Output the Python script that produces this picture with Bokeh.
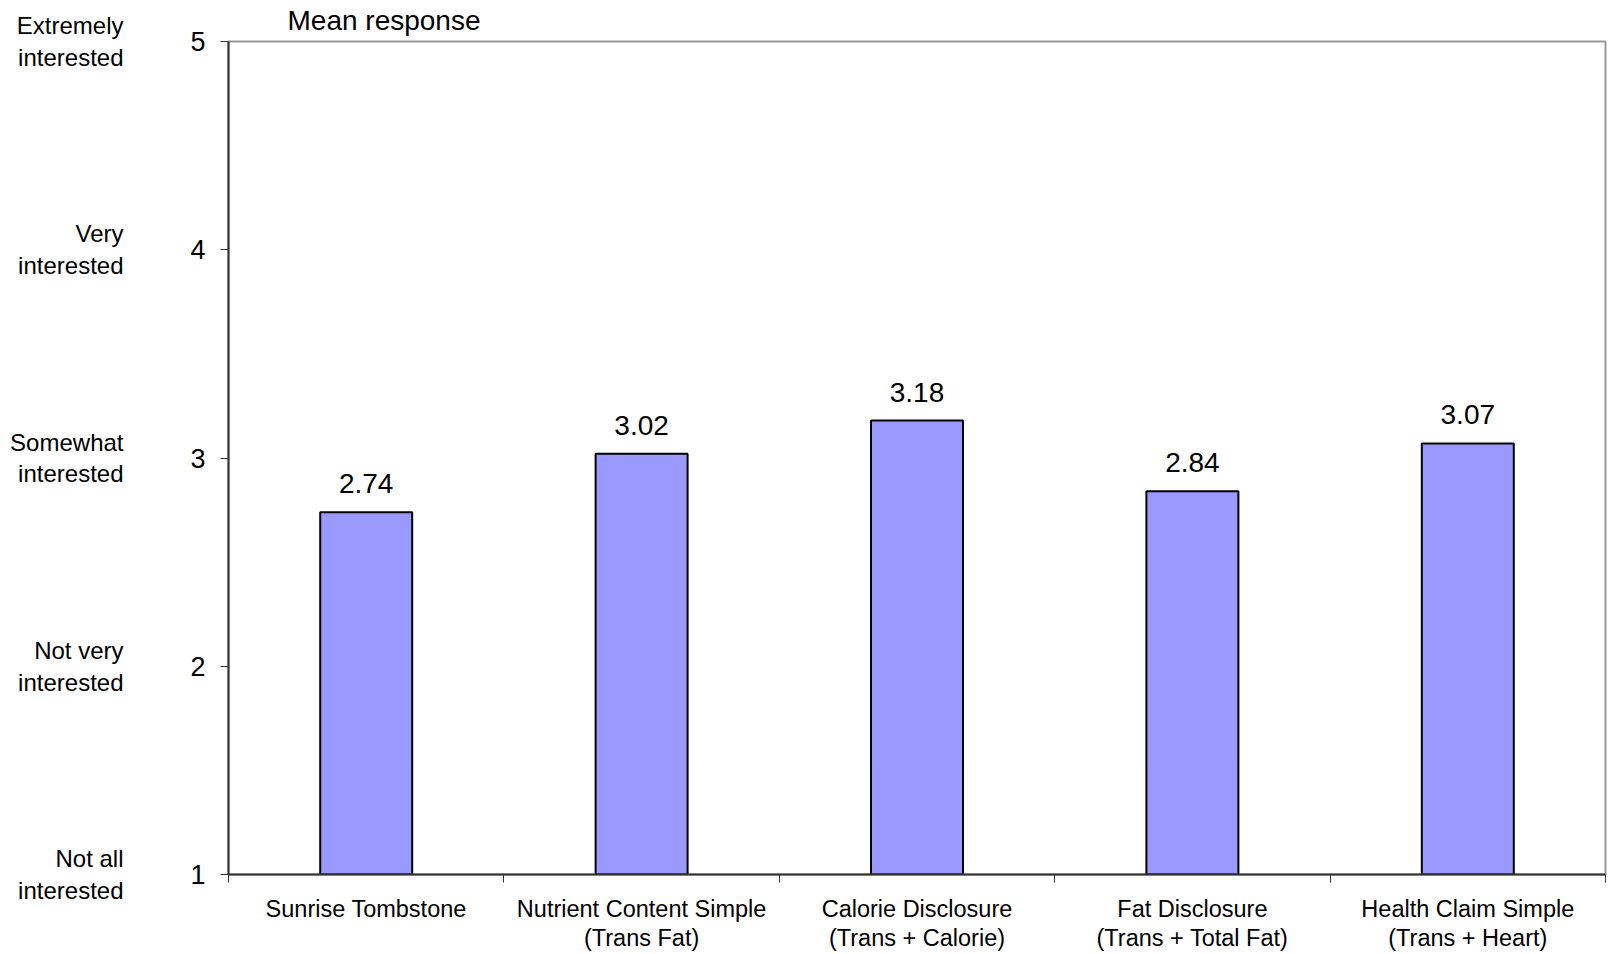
from bokeh.plotting import figure
from bokeh.models import ColumnDataSource, LinearAxis, FixedTicker, Range1d, LabelSet
from bokeh.core.properties import value
from bokeh.embed import file_html
from bokeh.resources import INLINE

categories = [
    "Sunrise Tombstone",
    "Nutrient Content Simple\n(Trans Fat)",
    "Calorie Disclosure\n(Trans + Calorie)",
    "Fat Disclosure\n(Trans + Total Fat)",
    "Health Claim Simple\n(Trans + Heart)",
]
values = [2.74, 3.02, 3.18, 2.84, 3.07]
scale_ticks = [1, 2, 3, 4, 5]
scale_labels = [
    "Not all\ninterested",
    "Not very\ninterested",
    "Somewhat\ninterested",
    "Very\ninterested",
    "Extremely\ninterested",
]
title_text = "Mean response"

FONT = "Liberation Sans"
xs = list(range(len(categories)))
src = ColumnDataSource(dict(x=xs, top=values, text=[f"{v:.2f}" for v in values]))

p = figure(
    width=1608, height=954,
    x_range=Range1d(-0.5, len(categories) - 0.5),
    y_range=Range1d(scale_ticks[0], scale_ticks[-1]),
    output_backend="svg", toolbar_location=None,
    min_border_left=228, min_border_right=3, min_border_top=41, min_border_bottom=78,
)
p.background_fill_color = "white"
p.border_fill_color = "white"
p.outline_line_color = "#999999"
p.outline_line_width = 2
p.xgrid.visible = False
p.ygrid.visible = False

p.title.text = title_text
p.title.align = "left"
p.title.offset = 59
p.title.text_font = FONT
p.title.text_font_size = "28px"
p.title.text_font_style = "normal"
p.title.text_color = "black"
p.title.standoff = 8
p.title.vertical_align = "top"

p.vbar(x="x", top="top", bottom=scale_ticks[0], width=0.334, source=src,
       fill_color="#9999FF", line_color="black", line_width=2)

labels = LabelSet(x="x", y="top", text="text", source=src, y_offset=19,
                  text_align="center", text_baseline="alphabetic",
                  text_font=value(FONT), text_font_size=value("28px"), text_color="black")
p.add_layout(labels)

# numeric y axis
ya = p.yaxis[0]
ya.ticker = FixedTicker(ticks=scale_ticks)
ya.major_tick_out = 8
ya.major_tick_in = 0
ya.minor_tick_out = 0
ya.minor_tick_in = 0
ya.axis_line_color = "#333333"
ya.axis_line_width = 2
ya.major_tick_line_color = "#333333"
ya.major_label_text_font = FONT
ya.major_label_text_font_size = "27px"
ya.major_label_text_color = "black"
ya.major_label_standoff = 15

# descriptive scale axis
la = LinearAxis(
    ticker=FixedTicker(ticks=scale_ticks),
    major_label_overrides=dict(zip(scale_ticks, scale_labels)),
    axis_line_color=None, major_tick_line_color=None, minor_tick_line_color=None,
    major_tick_out=0, major_tick_in=0, minor_tick_out=0, minor_tick_in=0,
    major_label_text_font=FONT, major_label_text_font_size="24px",
    major_label_text_line_height=1.18,
    major_label_text_color="black", major_label_standoff=64,
)
p.add_layout(la, "left")

# x axis
xa = p.xaxis[0]
xa.ticker = FixedTicker(ticks=xs, minor_ticks=[i - 0.5 for i in range(len(categories) + 1)])
xa.major_label_overrides = dict(zip(xs, categories))
xa.major_tick_out = 0
xa.major_tick_in = 0
xa.major_tick_line_color = None
xa.minor_tick_out = 8
xa.minor_tick_in = 0
xa.minor_tick_line_color = "#333333"
xa.axis_line_color = "#333333"
xa.axis_line_width = 2
xa.major_label_text_font = FONT
xa.major_label_text_font_size = "23.5px"
xa.major_label_text_line_height = 1.14
xa.major_label_text_color = "black"
xa.major_label_standoff = 13

open("out.html", "w").write(file_html(p, INLINE))
